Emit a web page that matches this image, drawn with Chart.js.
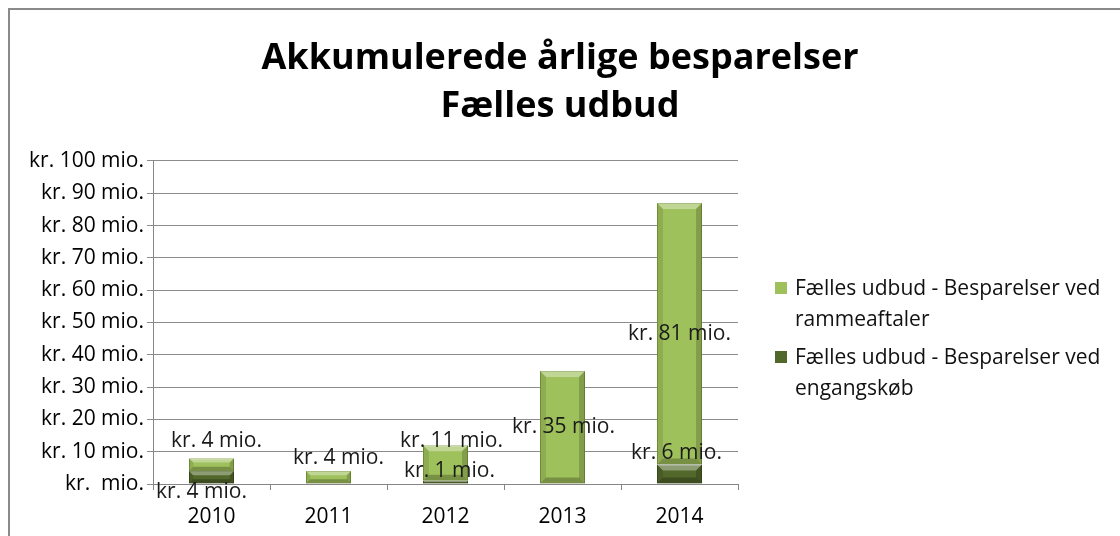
<!DOCTYPE html>
<html lang="da">
<head>
<meta charset="UTF-8">
<title>Akkumulerede årlige besparelser</title>
<script src="https://cdn.jsdelivr.net/npm/chart.js"></script>
<style>
  body { margin: 0; background: #fff; width: 1120px; height: 536px; overflow: hidden; position: relative; font-family: "Open Sans", sans-serif; }
  #frame { position: absolute; left: 8px; top: 8px; width: 1130px; height: 540px; border-left: 2px solid #8a8a8a; border-top: 2px solid #8a8a8a; }
  canvas { position: absolute; left: 0; top: 0; }
  #legend { position: absolute; left: 775px; top: 272px; width: 330px; font-size: 21px; line-height: 31px; color: #111; }
  .item { position: relative; padding-left: 20px; margin-bottom: 7px; }
  .box { position: absolute; left: 0; top: 10px; width: 12px; height: 12px; }
</style>
</head>
<body>
<div id="frame"></div>
<canvas id="chart" width="1120" height="536"></canvas>
<div id="legend"></div>

<script>
// data
var years = ['2010', '2011', '2012', '2013', '2014'];
var engangskob = [4, 0, 1, 0, 6];       // bottom, dark
var rammeaftaler = [4, 4, 11, 35, 81];  // top, light
var seriesNames = ['Fælles udbud - Besparelser ved engangskøb', 'Fælles udbud - Besparelser ved rammeaftaler'];
var yTickLabels = ['kr.  mio.', 'kr. 10 mio.', 'kr. 20 mio.', 'kr. 30 mio.', 'kr. 40 mio.', 'kr. 50 mio.',
                   'kr. 60 mio.', 'kr. 70 mio.', 'kr. 80 mio.', 'kr. 90 mio.', 'kr. 100 mio.'];

var colors = ['#52672a', '#9fc15b'];
var borders = ['#3f501e', '#7d9a3e'];

// label nudges (px) so small labels don't collide, like excel did
var labelShift = [
  [[-10, 15], [0, 0], [4, -11], [0, 0], [-3, -21]],
  [[5, -24], [10, -19], [6, -22], [1, 0], [0, 0]]
];

// bevel look on the bars
var bevelPlugin = {
  id: 'bevel',
  afterDatasetDraw: function (chart, args) {
    var ctx = chart.ctx;
    var meta = args.meta;
    meta.data.forEach(function (bar) {
      var h = Math.abs(bar.base - bar.y);
      if (h < 1) return;
      var x0 = bar.x - bar.width / 2, x1 = bar.x + bar.width / 2;
      var t = Math.min(bar.y, bar.base), b = Math.max(bar.y, bar.base);
      var e = Math.min(6, h / 3);
      ctx.save();
      ctx.fillStyle = 'rgba(255,255,255,0.35)';
      ctx.beginPath();
      ctx.moveTo(x0, t); ctx.lineTo(x1, t); ctx.lineTo(x1 - e, t + e); ctx.lineTo(x0 + e, t + e); ctx.closePath(); ctx.fill();
      ctx.fillStyle = 'rgba(0,0,0,0.10)';
      ctx.beginPath();
      ctx.moveTo(x0, t); ctx.lineTo(x0 + e, t + e); ctx.lineTo(x0 + e, b - e); ctx.lineTo(x0, b); ctx.closePath(); ctx.fill();
      ctx.fillStyle = 'rgba(0,0,0,0.18)';
      ctx.beginPath();
      ctx.moveTo(x1, t); ctx.lineTo(x1 - e, t + e); ctx.lineTo(x1 - e, b - e); ctx.lineTo(x1, b); ctx.closePath(); ctx.fill();
      ctx.fillStyle = 'rgba(0,0,0,0.25)';
      ctx.beginPath();
      ctx.moveTo(x0, b); ctx.lineTo(x1, b); ctx.lineTo(x1 - e, b - e); ctx.lineTo(x0 + e, b - e); ctx.closePath(); ctx.fill();
      ctx.restore();
    });
  }
};

// data labels
var labelPlugin = {
  id: 'barLabels',
  afterDatasetsDraw: function (chart) {
    var ctx = chart.ctx;
    ctx.save();
    ctx.font = '21px "Open Sans"';
    ctx.fillStyle = '#1a1a1a';
    ctx.textAlign = 'center';
    ctx.textBaseline = 'middle';
    chart.data.datasets.forEach(function (ds, di) {
      chart.getDatasetMeta(di).data.forEach(function (bar, i) {
        var v = ds.data[i];
        if (!v) return;
        var s = labelShift[di][i];
        ctx.fillText('kr. ' + v + ' mio.', bar.x + s[0], (bar.y + bar.base) / 2 + s[1]);
      });
    });
    ctx.restore();
  }
};

var ctx = document.getElementById('chart').getContext('2d');
var chart = new Chart(ctx, {
  type: 'bar',
  data: {
    labels: years,
    datasets: [{
      label: seriesNames[0],
      data: engangskob,
      backgroundColor: colors[0],
      borderColor: borders[0],
      borderWidth: 1,
      barPercentage: 0.385,
      categoryPercentage: 1
    }, {
      label: seriesNames[1],
      data: rammeaftaler,
      backgroundColor: colors[1],
      borderColor: borders[1],
      borderWidth: 1,
      barPercentage: 0.385,
      categoryPercentage: 1
    }]
  },
  options: {
    responsive: false,
    animation: false,
    layout: { padding: { left: 0, right: 0, top: 0, bottom: 7 } },
    plugins: {
      legend: { display: false },
      tooltip: { enabled: false },
      title: {
        display: true,
        text: ['Akkumulerede årlige besparelser', 'Fælles udbud'],
        color: '#000',
        font: { family: 'Open Sans', size: 36, weight: 'bold', lineHeight: 1.333 },
        padding: { top: 35, bottom: 30 }
      }
    },
    scales: {
      x: {
        stacked: true,
        grid: { offset: true, drawOnChartArea: false, tickLength: 6, color: '#868686' },
        border: { color: '#868686' },
        ticks: { color: '#000', padding: 14, font: { family: 'Open Sans', size: 21 } },
        afterFit: function (scale) { scale.height = 45; }
      },
      y: {
        stacked: true,
        min: 0,
        max: 100,
        grid: { color: '#8c8c8c', tickLength: 6 },
        border: { color: '#868686' },
        ticks: {
          stepSize: 10,
          color: '#000',
          padding: 3,
          font: { family: 'Open Sans', size: 21 },
          callback: function (v, i) { return yTickLabels[i]; }
        },
        afterFit: function (scale) { scale.width = 153; }
      },
      spacer: {
        position: 'right',
        grid: { display: false },
        border: { display: false },
        ticks: { display: false },
        afterFit: function (scale) { scale.width = 382; }
      }
    }
  },
  plugins: [bevelPlugin, labelPlugin]
});

// legend as html so the long names can wrap
var legendEl = document.getElementById('legend');
[1, 0].forEach(function (di) {
  var item = document.createElement('div');
  item.className = 'item';
  item.innerHTML = '<span class="box" style="background:' + colors[di] + '"></span>' + seriesNames[di];
  legendEl.appendChild(item);
});
</script>
</body>
</html>
